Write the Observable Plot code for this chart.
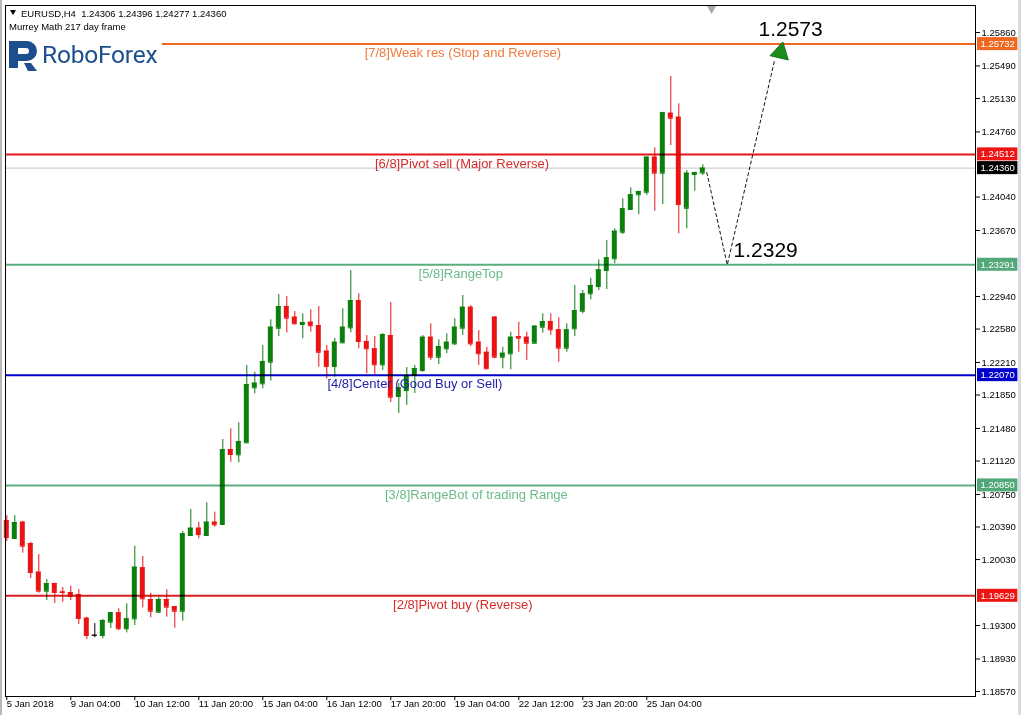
<!DOCTYPE html>
<html><head><meta charset="utf-8">
<script src="https://cdn.jsdelivr.net/npm/d3@7"></script>
<script src="https://cdn.jsdelivr.net/npm/@observablehq/plot@0.6"></script>
<style>
html,body{margin:0;padding:0;background:#fff;}
#wrap{position:relative;width:1021px;height:715px;overflow:hidden;font-family:"Liberation Sans",Arial,sans-serif;}
#chart{position:absolute;left:0;top:0;}
.hd{position:absolute;font-size:9.5px;line-height:11px;color:#000;white-space:pre;}
#tri{position:absolute;left:10px;top:10px;width:0;height:0;border-left:3.5px solid transparent;border-right:3.5px solid transparent;border-top:5px solid #000;}
#logo{position:absolute;left:6px;top:37px;width:156px;height:38px;background:#fff;}
#logo svg{position:absolute;left:0;top:0;}
#logotxt{position:absolute;left:36px;top:3px;font-family:Roboto,"Liberation Sans",sans-serif;font-size:24.5px;line-height:30px;color:#1d4f8f;white-space:nowrap;letter-spacing:-0.2px;}
#lbar{position:absolute;left:0;top:0;width:2px;height:715px;background:#b8b8b8;}
#rbar{position:absolute;right:0;top:0;width:3px;height:715px;background:#d6dbe3;}
</style></head>
<body><div id="wrap">
<div id="chart"></div>
<div id="tri"></div>
<div class="hd" style="left:21px;top:8px">EURUSD,H4  1.24306 1.24396 1.24277 1.24360</div>
<div class="hd" style="left:9px;top:21px">Murrey Math 217 day frame</div>
<div id="logo"><svg width="34" height="38" viewBox="0 0 34 38">
<g fill="#1d4f8f">
<path d="M3,4 H21 A10,10 0 0 1 21,24 H12 V31 H3 Z M12,11 V17 H20 A3,3 0 0 0 20,11 Z"/>
<path d="M18,26 H25 L31,34 H22 Z"/>
</g></svg><span id="logotxt">RoboForex</span></div>
<div id="lbar"></div><div id="rbar"></div>
</div>
<script>
// ---- candle data (EURUSD H4), index 0 = 5 Jan 2018 20:00 ----
const opens  = [1.20462,1.20263,1.20443,1.20207,1.19890,1.19680,1.19765,1.19671,1.19665,1.19643,
  1.19381,1.19193,1.19190,1.19337,1.19441,1.19264,1.19374,1.19939,1.19588,1.19447,
  1.19588,1.19510,1.19458,1.20296,1.20377,1.20296,1.20443,1.20418,1.21247,1.21188,
  1.21321,1.21930,1.21974,1.22213,1.22589,1.22829,1.22711,1.22630,1.22655,1.22619,
  1.22335,1.22165,1.22427,1.22593,1.22895,1.22442,1.22361,1.22184,1.22508,1.21833,
  1.21900,1.22066,1.22121,1.22489,1.22268,1.22361,1.22416,1.22589,1.22821,1.22434,
  1.22323,1.22711,1.22268,1.22306,1.22497,1.22489,1.22423,1.22600,1.22663,1.22571,
  1.22368,1.22582,1.22777,1.22969,1.23050,1.23227,1.23357,1.23651,1.23902,1.24065,
  1.24093,1.24481,1.24304,1.24967,1.24923,1.23916,1.24289,1.24306];
const highs  = [1.20517,1.20517,1.20454,1.20222,1.20086,1.19809,1.19768,1.19721,1.19735,1.19698,
  1.19392,1.19322,1.19367,1.19444,1.19485,1.19540,1.20177,1.20063,1.19658,1.19613,
  1.19695,1.19512,1.20340,1.20583,1.20443,1.20658,1.20554,1.21358,1.21476,1.21543,
  1.22176,1.22102,1.22398,1.22682,1.22962,1.22940,1.22774,1.22748,1.22793,1.22829,
  1.22398,1.22478,1.22804,1.23227,1.22969,1.22508,1.22497,1.22530,1.22873,1.21977,
  1.22154,1.22176,1.22508,1.22638,1.22461,1.22527,1.22693,1.22951,1.22840,1.22564,
  1.22379,1.22718,1.22379,1.22545,1.22655,1.22545,1.22619,1.22748,1.22748,1.22704,
  1.22638,1.23061,1.23006,1.23142,1.23346,1.23559,1.23689,1.24020,1.24142,1.24105,
  1.24485,1.24585,1.24978,1.25373,1.25071,1.24333,1.24315,1.24396];
const lows   = [1.20229,1.20252,1.20100,1.19820,1.19658,1.19577,1.19544,1.19558,1.19577,1.19311,
  1.19145,1.19164,1.19153,1.19267,1.19245,1.19219,1.19300,1.19496,1.19385,1.19440,
  1.19392,1.19270,1.19348,1.20290,1.20259,1.20285,1.20388,1.20406,1.21107,1.21100,
  1.21317,1.21863,1.21919,1.22003,1.22497,1.22538,1.22627,1.22472,1.22545,1.22157,
  1.22029,1.22047,1.22420,1.22538,1.22361,1.22085,1.22077,1.22121,1.21767,1.21645,
  1.21734,1.21867,1.22102,1.22232,1.22187,1.22306,1.22398,1.22508,1.22387,1.22176,
  1.22135,1.22250,1.22140,1.22129,1.22323,1.22232,1.22416,1.22534,1.22508,1.22213,
  1.22323,1.22497,1.22748,1.22903,1.23006,1.23017,1.23301,1.23626,1.23895,1.23843,
  1.24057,1.23883,1.23957,1.24610,1.23633,1.23689,1.24104,1.24277];
const closes = [1.20274,1.20440,1.20177,1.19887,1.19680,1.19765,1.19665,1.19665,1.19621,1.19378,
  1.19190,1.19193,1.19356,1.19441,1.19264,1.19374,1.19945,1.19596,1.19458,1.19588,
  1.19503,1.19458,1.20315,1.20377,1.20307,1.20443,1.20414,1.21247,1.21192,1.21336,
  1.21966,1.21981,1.22221,1.22600,1.22829,1.22700,1.22638,1.22652,1.22616,1.22323,
  1.22165,1.22434,1.22600,1.22895,1.22442,1.22361,1.22184,1.22519,1.21826,1.21933,
  1.22066,1.22143,1.22489,1.22268,1.22387,1.22434,1.22600,1.22821,1.22416,1.22306,
  1.22140,1.22268,1.22312,1.22489,1.22478,1.22423,1.22611,1.22663,1.22571,1.22368,
  1.22571,1.22785,1.22969,1.23061,1.23235,1.23368,1.23662,1.23910,1.24065,1.24101,
  1.24481,1.24304,1.24972,1.24912,1.23957,1.24304,1.24311,1.24360];

// ---- axis ticks (labels hidden behind the price badges are left out) ----
const timeTickIdx = [0,8,16,24,32,40,48,56,64,72,80];
const timeTickLabels = ["5 Jan 2018","9 Jan 04:00","10 Jan 12:00","11 Jan 20:00","15 Jan 04:00",
  "16 Jan 12:00","17 Jan 20:00","19 Jan 04:00","22 Jan 12:00","23 Jan 20:00","25 Jan 04:00"];
const priceTicks = [1.25860,1.25490,1.25130,1.24760,1.24040,1.23670,1.22940,1.22580,
  1.22210,1.21850,1.21480,1.21120,1.20750,1.20390,1.20030,1.19300,1.18930,1.18570];

// ---- Murrey Math levels ----
const levelValues = [1.25732,1.24512,1.23291,1.22070,1.20850,1.19629];
const levelNames  = ["[7/8]Weak res (Stop and Reverse)","[6/8]Pivot sell (Major Reverse)","[5/8]RangeTop",
  "[4/8]Center (Good Buy or Sell)","[3/8]RangeBot of trading Range","[2/8]Pivot buy (Reverse)"];
const levelLabelIdx = [57.0,56.9,56.75,51.0,58.7,57.0];
const levelLineColors  = ["#f0661f","#e3161c","#5aae7c","#0000cc","#5aae7c","#d91e1e"];
const levelTextColors  = ["#ee7b3d","#d62b2b","#6cba8b","#2323a8","#6cba8b","#d62b2b"];
const levelBadgeColors = ["#f0661f","#ee1414","#52a878","#0000cc","#52a878","#ee1414"];
const lastPrice = 1.24360;

// ---- forecast path ----
const projIdx   = [87.5, 90.06, 95.96];
const projPrice = [1.24311, 1.23290, 1.25550];
const arrowIdx = [96.7], arrowPrice = [1.25639];
const targetTexts = ["1.2573","1.2329"];
const targetIdx   = [93.96, 90.84];
const targetPrice = [1.2573, 1.2329];

// ---- build tables ----
const candles = opens.map((o,i)=>({i, o, h:highs[i], l:lows[i], c:closes[i]}));
const levels = levelValues.map((v,k)=>({v, name:levelNames[k], lx:levelLabelIdx[k],
  line:levelLineColors[k], txt:levelTextColors[k], badge:levelBadgeColors[k]}));
const badges = [...levels.map(d=>({v:d.v, fill:d.badge})), {v:lastPrice, fill:"#000"}];
const proj = projIdx.map((x,k)=>({x, p:projPrice[k]}));
const targets = targetTexts.map((t,k)=>({t, x:targetIdx[k], p:targetPrice[k]}));
const arrow = arrowIdx.map((x,k)=>({x, p:arrowPrice[k]}));

const UP="#0b7f0b", DN="#ec1313", EQ="#000";
const col = d => d.c > d.o ? UP : d.c < d.o ? DN : EQ;
const HW = 0.31;
const xDomain = [-0.1625, 121.0875];
const yDomain = [1.18515, 1.26159];
const BH = 0.00072;

const chart = Plot.plot({
  width: 1021, height: 715,
  marginLeft: 5, marginRight: 46, marginTop: 5, marginBottom: 19,
  style: {fontFamily: "'Liberation Sans', Arial, sans-serif", fontSize: "9.5px", background: "#fff", color: "#000"},
  x: {type: "linear", domain: xDomain},
  y: {type: "linear", domain: yDomain},
  marks: [
    Plot.ruleY([lastPrice], {stroke: "#c4c4c4", strokeWidth: 1}),
    // candles
    Plot.ruleX(candles, {x: "i", y1: "l", y2: "h", stroke: col, strokeWidth: 1}),
    Plot.rect(candles, {x1: d=>d.i-HW, x2: d=>d.i+HW, y1: "o", y2: "c", fill: col}),
    Plot.ruleY(candles, {y: "o", x1: d=>d.i-HW, x2: d=>d.i+HW, stroke: col}),
    Plot.ruleY(candles, {y: "c", x1: d=>d.i-HW, x2: d=>d.i+HW, stroke: col}),
    // level lines
    Plot.ruleY(levels, {y: "v", stroke: "line", strokeWidth: 2, mixBlendMode: "multiply"}),
    Plot.text(levels, {x: "lx", y: "v", text: "name", fill: "txt", dy: 9, fontSize: 13,
      fontFamily: "'Liberation Sans', Arial, sans-serif", textAnchor: "middle"}),
    // forecast
    Plot.line(proj, {x: "x", y: "p", stroke: "#111", strokeWidth: 1, strokeDasharray: "3,3"}),
    Plot.dot(arrow, {x: "x", y: "p", symbol: "triangle", r: 7, rotate: 13, fill: "#1a8c1a", stroke: "#0f6a0f", strokeWidth: 0.8}),
    Plot.text(targets, {x: "x", y: "p", text: "t", textAnchor: "start", dy: -15, fontSize: 21, fill: "#000",
      fontFamily: "'Liberation Sans', Arial, sans-serif"}),
    // shift marker
    Plot.dot([88.1], {x: d=>d, frameAnchor: "top", symbol: "triangle", rotate: 180, r: 3.5, fill: "#a8a8a8", dy: 3}),
    // axes
    Plot.axisY({anchor: "right", ticks: priceTicks, tickFormat: d=>d.toFixed(5), tickSize: 4, tickPadding: 2, label: null}),
    Plot.axisX({anchor: "bottom", ticks: timeTickIdx, tickFormat: d=>timeTickLabels[timeTickIdx.indexOf(d)],
      tickSize: 4, tickPadding: 0, textAnchor: "start", label: null}),
    Plot.frame({stroke: "#000", strokeWidth: 1}),
    // price badges on the axis
    Plot.rect(badges, {x1: ()=>xDomain[1], x2: ()=>xDomain[1]+5.3, y1: d=>d.v-BH, y2: d=>d.v+BH, fill: "fill", insetLeft: 2}),
    Plot.text(badges, {x: ()=>xDomain[1], y: "v", text: d=>d.v.toFixed(5), dx: 5, textAnchor: "start", fill: "#fff"})
  ]
});
document.getElementById("chart").appendChild(chart);
</script>
</body></html>
